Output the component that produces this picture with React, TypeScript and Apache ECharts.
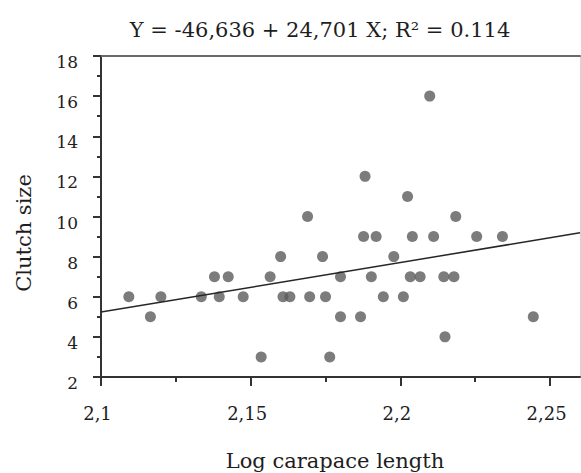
import React, { useEffect, useRef } from "react";
import * as echarts from "echarts";

// Data: [log carapace length, clutch size]
const logLength: number[] = [
  2.1093, 2.1165, 2.12, 2.1335, 2.1379, 2.1395, 2.1425, 2.1475, 2.1535, 2.1565,
  2.16, 2.1608, 2.1631, 2.169, 2.1697, 2.174, 2.175, 2.1764, 2.18, 2.18,
  2.1867, 2.1877, 2.1882, 2.1903, 2.1919, 2.1943, 2.1978, 2.201, 2.2024, 2.2033,
  2.204, 2.2066, 2.2098, 2.2111, 2.2145, 2.2149, 2.2179, 2.2185, 2.2255, 2.2341,
  2.2444,
];
const clutchSize: number[] = [
  6, 5, 6, 6, 7, 6, 7, 6, 3, 7,
  8, 6, 6, 10, 6, 8, 6, 3, 7, 5,
  5, 9, 12, 7, 9, 6, 8, 6, 11, 7,
  9, 7, 16, 9, 7, 4, 7, 10, 9, 9,
  5,
];

// Regression from the title
const intercept = -46.636;
const slope = 24.701;
const r2 = 0.114;
const lineX: number[] = [2.1, 2.26];

// Axes
const xMin = 2.1;
const xMax = 2.26;
const xMajorTicks: number[] = [2.1, 2.15, 2.2, 2.25];
const xMinorTicks: number[] = [2.125, 2.175, 2.225];
const yMin = 2;
const yMax = 18;
const yMajorTicks: number[] = [2, 4, 6, 8, 10, 12, 14, 16, 18];
const yMinorTicks: number[] = [3, 5, 7, 9, 11, 13, 15, 17];

const titleText = "Y = -46,636 + 24,701 X; R\u00B2 = " + r2.toFixed(3);
const xName = "Log carapace length";
const yName = "Clutch size";

const FONT = '"DejaVu Serif", "Liberation Serif", serif';
const TEXT = "#1e1e1e";
const AXIS = "#333333";

export default function App() {
  const ref = useRef<HTMLDivElement>(null);

  useEffect(() => {
    if (!ref.current) return;
    const chart = echarts.init(ref.current, undefined, { renderer: "svg" });
    const points = logLength.map((x, i) => [x, clutchSize[i]]);
    const linePts = lineX.map((x) => [x, intercept + slope * x]);

    const hidden = { show: false };
    chart.setOption({
      animation: false,
      backgroundColor: "#ffffff",
      grid: { left: 101, right: 1, top: 56, bottom: 96, containLabel: false },
      xAxis: [
        {
          type: "value",
          position: "bottom",
          min: xMin,
          max: xMax,
          interval: 0.05,
          axisLine: { show: true, lineStyle: { color: AXIS, width: 2 } },
          axisTick: {
            show: true,
            customValues: xMajorTicks,
            length: 9,
            lineStyle: { color: AXIS, width: 2 },
          },
          axisLabel: {
            show: true,
            customValues: xMajorTicks,
            margin: 27,
            padding: [0, 7, 0, 0],
            color: TEXT,
            fontFamily: FONT,
            fontSize: 18,
            formatter: (v: number) => String(v).replace(".", ","),
          },
          splitLine: hidden,
        },
        {
          type: "value",
          position: "bottom",
          min: xMin,
          max: xMax,
          axisLine: hidden,
          axisTick: {
            show: true,
            customValues: xMinorTicks,
            length: 5,
            lineStyle: { color: AXIS, width: 2 },
          },
          axisLabel: hidden,
          splitLine: hidden,
        },
        {
          type: "value",
          position: "top",
          min: xMin,
          max: xMax,
          axisLine: { show: true, lineStyle: { color: "#6a6a6a", width: 2 } },
          axisTick: hidden,
          axisLabel: hidden,
          splitLine: hidden,
        },
      ],
      yAxis: [
        {
          type: "value",
          position: "left",
          min: yMin,
          max: yMax,
          interval: 2,
          axisLine: { show: true, lineStyle: { color: AXIS, width: 2 } },
          axisTick: {
            show: true,
            customValues: yMajorTicks,
            length: 8,
            lineStyle: { color: AXIS, width: 2 },
          },
          axisLabel: {
            show: true,
            customValues: yMajorTicks,
            margin: 23,
            verticalAlign: "top",
            lineHeight: 12,
            color: TEXT,
            fontFamily: FONT,
            fontSize: 17,
          },
          splitLine: hidden,
        },
        {
          type: "value",
          position: "left",
          min: yMin,
          max: yMax,
          axisLine: hidden,
          axisTick: {
            show: true,
            customValues: yMinorTicks,
            length: 4,
            lineStyle: { color: AXIS, width: 2 },
          },
          axisLabel: hidden,
          splitLine: hidden,
        },
        {
          type: "value",
          position: "right",
          min: yMin,
          max: yMax,
          axisLine: { show: true, lineStyle: { color: "#d4d4d4", width: 1 } },
          axisTick: hidden,
          axisLabel: hidden,
          splitLine: hidden,
        },
      ],
      series: [
        {
          type: "scatter",
          xAxisIndex: 0,
          yAxisIndex: 0,
          data: points,
          symbol: "circle",
          symbolSize: 11,
          itemStyle: { color: "#5b5b5b" },
          z: 2,
        },
        {
          type: "line",
          xAxisIndex: 0,
          yAxisIndex: 0,
          data: linePts,
          symbol: "none",
          lineStyle: { color: "#262626", width: 1.5 },
          z: 3,
        },
      ],
      graphic: [
        {
          type: "text",
          x: 320,
          y: 30,
          style: {
            text: titleText,
            fill: TEXT,
            fontFamily: FONT,
            fontSize: 21,
            align: "center",
            verticalAlign: "middle",
          },
        },
        {
          type: "text",
          x: 335,
          y: 461,
          style: {
            text: xName,
            fill: TEXT,
            fontFamily: FONT,
            fontSize: 21,
            align: "center",
            verticalAlign: "middle",
          },
        },
        {
          type: "text",
          x: 24,
          y: 233,
          rotation: Math.PI / 2,
          style: {
            text: yName,
            fill: TEXT,
            fontFamily: FONT,
            fontSize: 21,
            align: "center",
            verticalAlign: "middle",
          },
        },
      ],
    });
    return () => chart.dispose();
  }, []);

  return (
    <div
      ref={ref}
      style={{ position: "fixed", left: 0, top: 0, width: 581, height: 473, background: "#fff" }}
    />
  );
}
